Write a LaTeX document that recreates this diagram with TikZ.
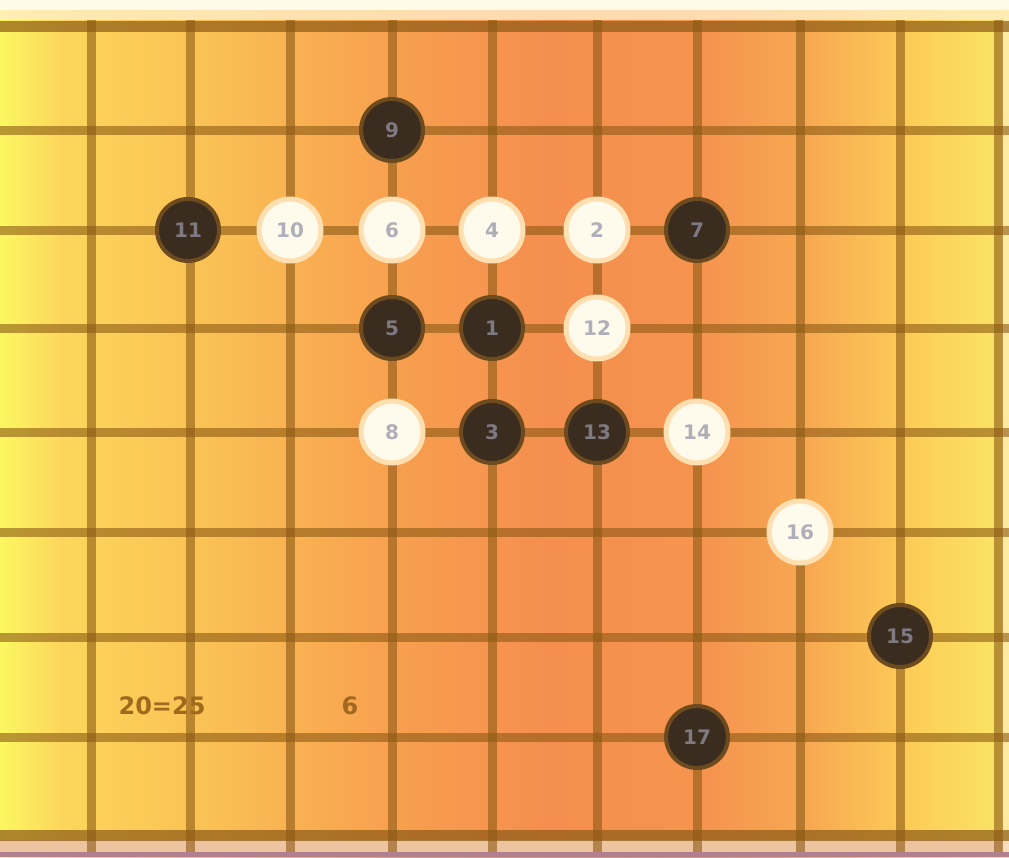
\documentclass[tikz,border=0pt]{standalone}
\usepackage{fontspec}
\setmainfont{DejaVu Sans}
\definecolor{cream}{RGB}{255,251,232}
\definecolor{cream2}{RGB}{255,238,200}
\definecolor{gridc}{RGB}{140,90,20}
\definecolor{stoneb}{RGB}{58,44,30}
\definecolor{haloB}{RGB}{110,75,30}
\definecolor{stonew}{RGB}{255,251,236}
\definecolor{haloW}{RGB}{255,222,175}
\definecolor{numB}{RGB}{125,122,130}
\definecolor{numW}{RGB}{175,175,185}
\definecolor{labc}{RGB}{160,105,30}
\definecolor{lowband}{RGB}{236,196,160}
\definecolor{purp}{RGB}{176,128,144}
\pgfdeclarehorizontalshading{boardshade}{100bp}{%
  rgb(0bp)=(0.99,0.97,0.38);
  rgb(25bp)=(0.99,0.97,0.38);
  rgb(28bp)=(0.99,0.84,0.36);
  rgb(35bp)=(0.98,0.76,0.33);
  rgb(45bp)=(0.97,0.62,0.31);
  rgb(52bp)=(0.96,0.56,0.31);
  rgb(60bp)=(0.96,0.58,0.31);
  rgb(65bp)=(0.97,0.66,0.32);
  rgb(70bp)=(0.99,0.80,0.34);
  rgb(75bp)=(0.98,0.90,0.40);
  rgb(100bp)=(0.98,0.90,0.40)}
\tikzset{
  gridline/.style={draw=gridc, draw opacity=0.6, line width=9pt},
  edgeline/.style={draw=gridc, draw opacity=0.7, line width=11pt},
  stonebase/.style={circle, minimum size=62pt, inner sep=0pt,
    font=\bfseries\fontsize{20}{20}\selectfont},
  bstone/.style={stonebase, fill=stoneb, draw=haloB, line width=4pt, text=numB},
  wstone/.style={stonebase, fill=stonew, draw=haloW, line width=5pt, text=numW},
  labeltext/.style={text=labc, font=\bfseries\fontsize{24}{24}\selectfont, inner sep=0pt}
}
\begin{document}
\begin{tikzpicture}[x=1pt,y=-1pt]
\useasboundingbox (0,0) rectangle (1009,857);
\shade[shading=boardshade] (0,0) rectangle (1009,857);
% frame bands
\fill[cream] (0,0) rectangle (1009,10);
\fill[cream2, opacity=0.8] (0,10) rectangle (1009,20);
\fill[lowband] (0,840) rectangle (1009,852);
\fill[purp] (0,852) rectangle (1009,857);
\fill[cream2, opacity=0.6] (1002,20) rectangle (1009,852);
% grid
\foreach \x in {91,190,290,392,492,597,697,800,900,998}
  \draw[gridline] (\x,20) -- (\x,852);
\foreach \y in {130,230,328,432,532,637,737}
  \draw[gridline] (0,\y) -- (1009,\y);
\draw[edgeline] (0,26) -- (1009,26);
\draw[edgeline] (0,835) -- (1009,835);
% black stones
\node[bstone] (b1) at (492,328) {1};
\node[bstone] (b3) at (492,432) {3};
\node[bstone] (b5) at (392,328) {5};
\node[bstone] (b7) at (697,230) {7};
\node[bstone] (b9) at (392,130) {9};
\node[bstone] (b11) at (188,230) {11};
\node[bstone] (b13) at (597,432) {13};
\node[bstone] (b15) at (900,636) {15};
\node[bstone] (b17) at (697,737) {17};
% white stones
\node[wstone] (w2) at (597,230) {2};
\node[wstone] (w4) at (492,230) {4};
\node[wstone] (w6) at (392,230) {6};
\node[wstone] (w8) at (392,432) {8};
\node[wstone] (w10) at (290,230) {10};
\node[wstone] (w12) at (597,328) {12};
\node[wstone] (w14) at (697,432) {14};
\node[wstone] (w16) at (800,532) {16};
% caption
\node[labeltext] (cap1) at (162,706) {20=25};
\node[labeltext] (cap2) at (350,706) {6};
\end{tikzpicture}
\end{document}
